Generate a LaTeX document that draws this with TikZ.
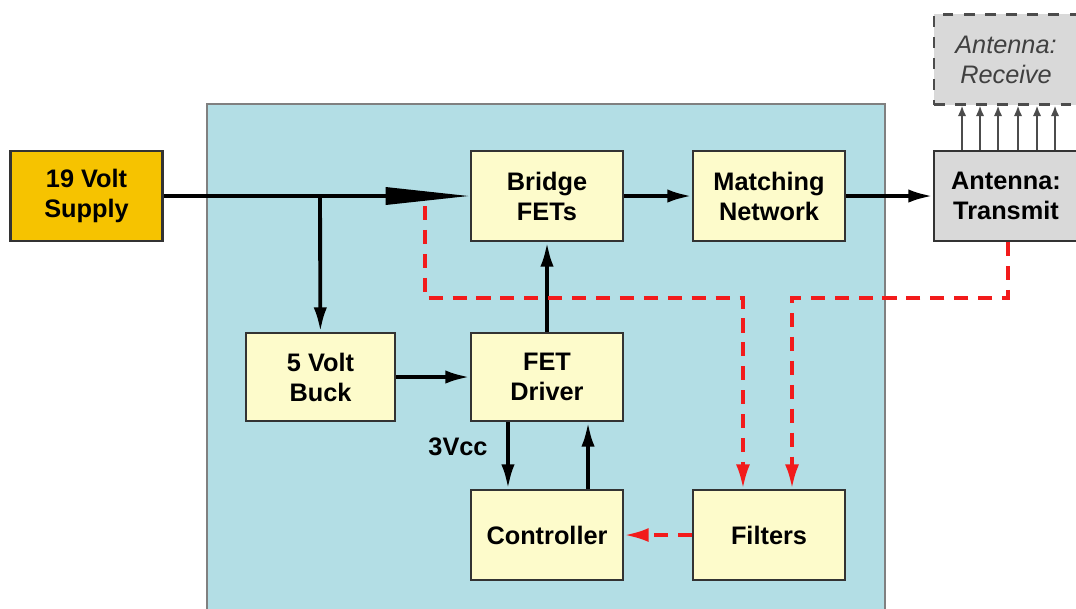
\documentclass[tikz,border=0pt]{standalone}
\usepackage{fontspec}
\setmainfont{Liberation Sans}
\usetikzlibrary{arrows.meta}
\definecolor{panel}{HTML}{B3DEE5}
\definecolor{boxyel}{HTML}{FDFBCB}
\definecolor{gold}{HTML}{F6C300}
\definecolor{antgray}{HTML}{D9D9D9}
\definecolor{fbred}{HTML}{F21B1B}

\begin{document}
\begin{tikzpicture}[x=0.01cm, y=-0.01cm, font=\fontsize{7.2}{8.5}\selectfont\bfseries,
  blk/.style={draw=black!80, semithick, fill=boxyel, minimum width=1.52cm, minimum height=0.9cm, align=center, inner sep=1pt},
  sig/.style={-{Latex[length=7pt, width=3.8pt]}, line width=1.1pt},
  pwr/.style={-{Triangle[length=24pt, width=4.8pt]}, line width=1.1pt},
  fb/.style={-{Latex[length=7pt, width=4pt]}, line width=1.1pt, fbred, dash pattern=on 4pt off 2.8pt},
  rxa/.style={-{Latex[length=3pt, width=2.4pt]}, line width=0.5pt, black!70}]
\useasboundingbox (0,0) rectangle (1076,608);
\fill[panel] (207,104) rectangle (885,612); \draw[black!50, semithick] (207,612) -- (207,104) -- (885,104) -- (885,612);
\node[blk, fill=gold] (sup) at (86.5,196) {19 Volt\\Supply};
\node[blk] (bri) at (547,196) {Bridge\\FETs}; \node[blk] (mat) at (769,196) {Matching\\Network};
\node[blk, fill=antgray, minimum width=1.44cm] (tx) at (1006,196) {Antenna:\\Transmit};
\node[blk, fill=antgray, minimum width=1.44cm, dashed, draw=black!70, text=black!75, font=\fontsize{7.2}{8.5}\selectfont\itshape] (rx) at (1006,59.5) {Antenna:\\Receive};
\node[blk, minimum width=1.49cm, minimum height=0.88cm] (buck) at (320.5,377) {5 Volt\\Buck};
\node[blk, minimum height=0.88cm] (drv) at (547,377) {FET\\Driver};
\node[blk] (ctl) at (547,535) {Controller}; \node[blk] (fil) at (769,535) {Filters};
\node (vcc) at (458,447) {3Vcc};
\coordinate (tap) at (320,196); \coordinate (fbA) at (425,206); \coordinate (fbB) at (1008,298);
\draw[pwr] (sup) -- (bri);
\draw[sig] (tap) -- (buck); \draw[sig] (buck) -- (drv); \draw[sig] (drv) -- (bri);
\draw[sig] (bri) -- (mat); \draw[sig] (mat) -- (tx);
\draw[sig] ([xshift=-0.39cm]drv.south) -- ([xshift=-0.39cm]ctl.north);
\draw[sig] ([xshift=0.41cm]ctl.north) -- ([xshift=0.41cm]drv.south);
\foreach \d in {-44,-26,-8,12,31,49}
  \draw[rxa] ([xshift=\d*0.01cm]tx.north) -- ([xshift=\d*0.01cm]rx.south);
\draw[fb] (fbA) -- (425,298) -| ([xshift=-0.26cm]fil.north);
\draw[fb] (tx.south -| fbB) -- (fbB) -| ([xshift=0.23cm]fil.north);
\draw[fb] (fil) -- (ctl);
\end{tikzpicture}
\end{document}
